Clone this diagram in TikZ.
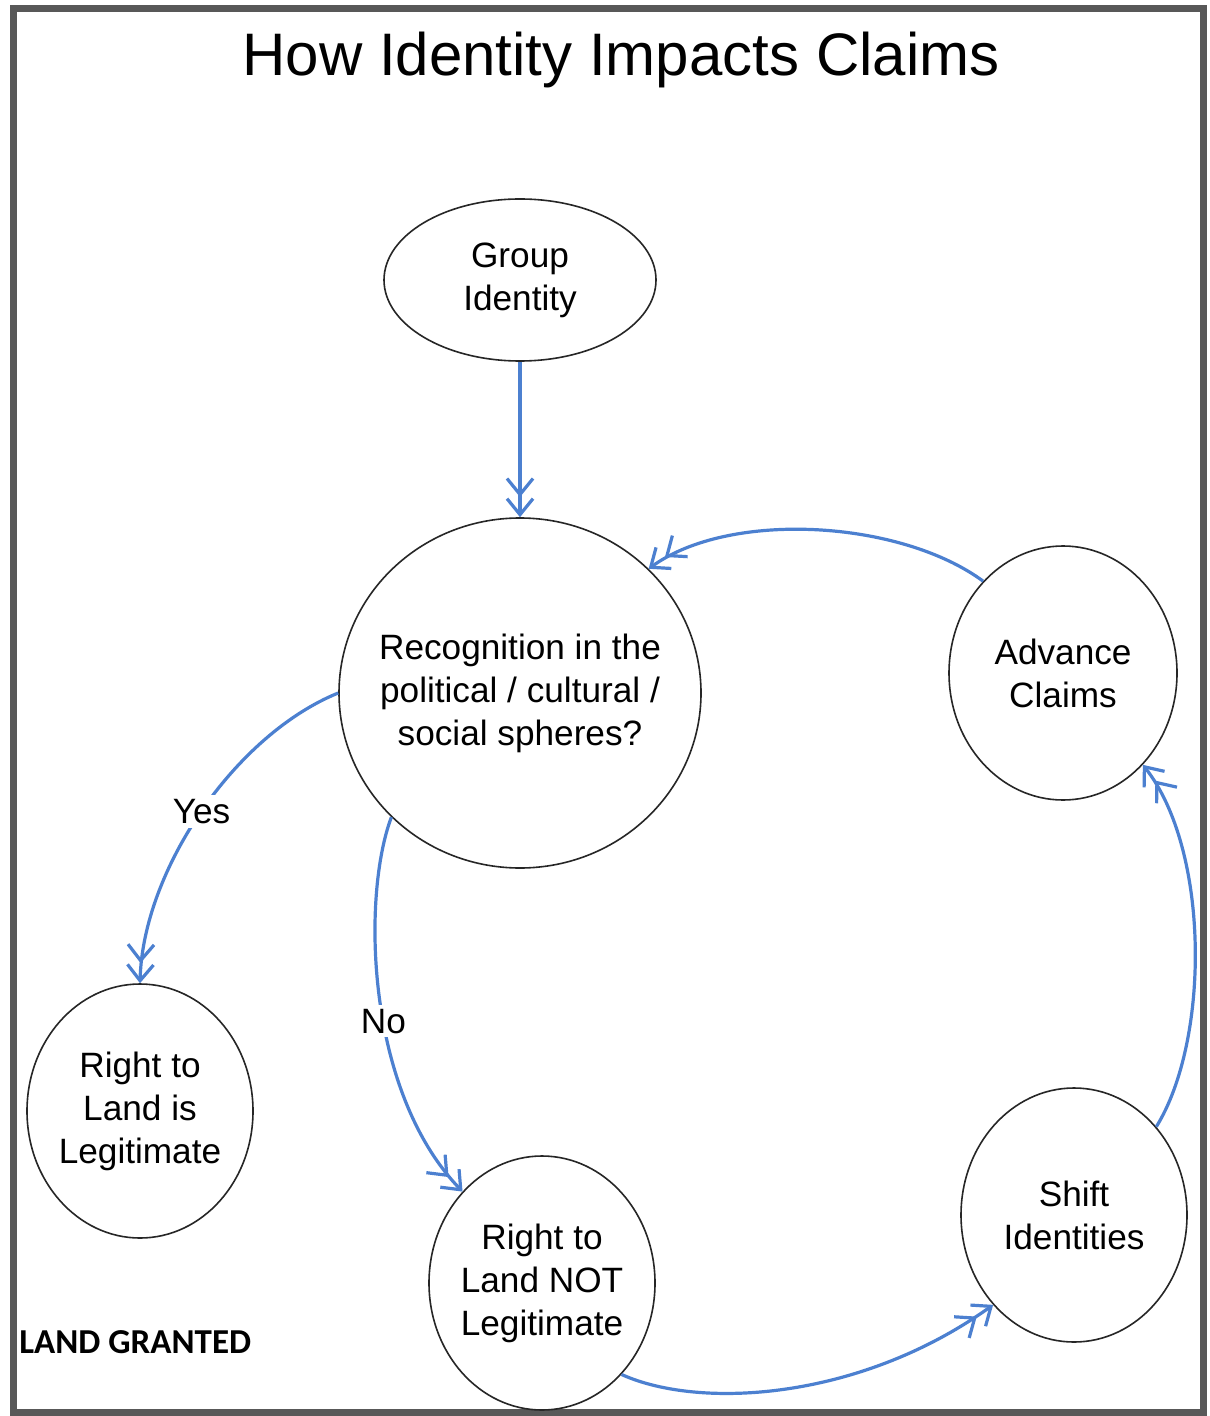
\documentclass[tikz,border=0pt]{standalone}
\usepackage{fontspec}
\setmainfont{Liberation Sans}
\newfontfamily\calib{Carlito}
\usetikzlibrary{shapes.geometric,arrows.meta}
\definecolor{flow}{RGB}{76,128,208}
\definecolor{frame}{RGB}{88,88,88}
\tikzset{
  bub/.style={ellipse, draw=black!85, line width=0.8pt, inner sep=0pt},
  txt/.style={font=\fontsize{17.6}{21.5}\selectfont, align=center},
  flowline/.style={draw=flow, line width=1.6pt,
    -{Straight Barb[length=8pt,width=13pt,line width=1.6pt] Straight Barb[length=8pt,width=13pt,line width=1.6pt]}},
  lbl/.style={font=\fontsize{17.6}{21.5}\selectfont, fill=white, inner sep=2pt}
}
\begin{document}
\begin{tikzpicture}[x=0.5pt,y=-0.5pt]
\useasboundingbox (0,0) rectangle (1209,1416);
\fill[white] (0,0) rectangle (1209,1416);
\draw[frame, line width=3.6pt] (13.5,8.5) rectangle (1203.5,1412.5);

\node[font=\fontsize{30}{36}\selectfont] (title) at (621,60) {How Identity Impacts Claims};

\node[bub, minimum width=136pt, minimum height=81pt, label={[txt]center:Group\\Identity}] (gid) at (520,280) {};
\node[bub, minimum width=181pt, minimum height=175pt, label={[txt]center:Recognition in the\\political / cultural /\\social spheres?}] (rec) at (520,693) {};
\node[bub, minimum width=114pt, minimum height=127pt, label={[txt]center:Advance\\Claims}] (adv) at (1063,673) {};
\node[bub, minimum width=113pt, minimum height=127pt, label={[txt]center:Right to\\Land is\\Legitimate}] (leg) at (140,1111) {};
\node[bub, minimum width=113pt, minimum height=127pt, label={[txt]center:Right to\\Land NOT\\Legitimate}] (notl) at (542,1283) {};
\node[bub, minimum width=113pt, minimum height=127pt, label={[txt]center:Shift\\Identities}] (shift) at (1074,1215) {};

\node[font=\calib\bfseries\fontsize{17.5}{21}\selectfont, anchor=west, inner sep=0pt] (granted) at (19,1342) {LAND GRANTED};

\draw[flowline] (gid.south) -- (rec.north);
\draw[flowline] (adv.131) .. controls (900,520) and (730,510) .. (rec.44);
\draw[flowline] (rec.180) .. controls (235,735) and (143,870) .. node[lbl, pos=0.5] (yes) {Yes} (leg.90);
\draw[flowline] (rec.224) .. controls (362,895) and (365,1090) .. node[lbl, pos=0.56] (no) {No} (notl.131);
\draw[flowline] (notl.311) .. controls (700,1410) and (860,1400) .. (shift.228);
\draw[flowline] (shift.47) .. controls (1210,1040) and (1210,850) .. (adv.311);
\end{tikzpicture}
\end{document}
